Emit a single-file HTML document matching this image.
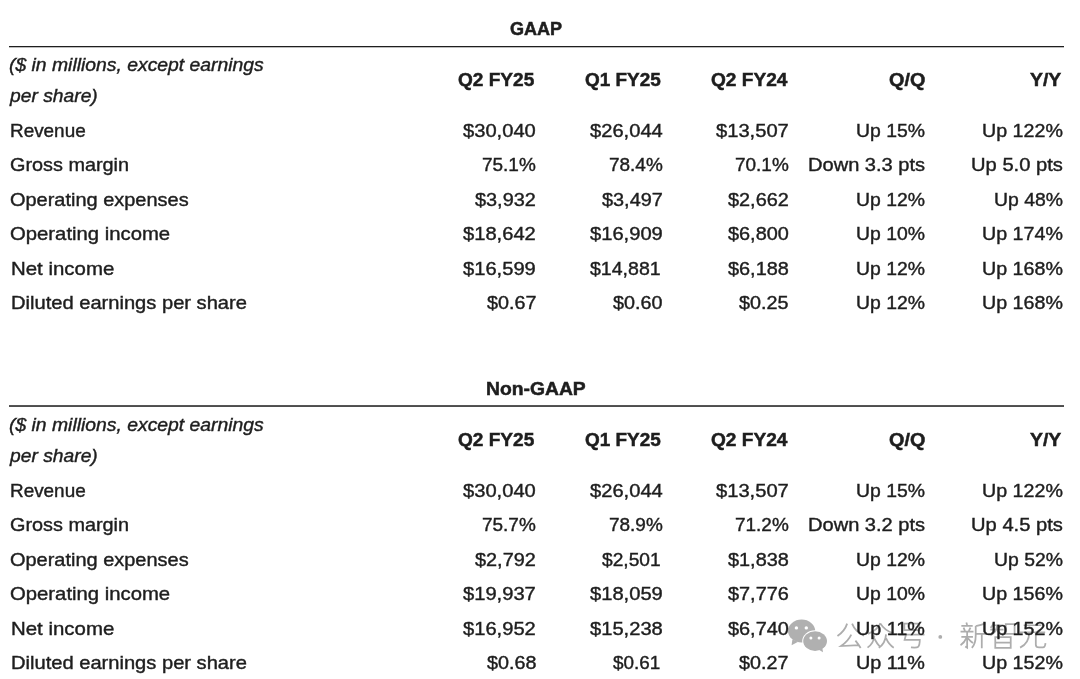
<!DOCTYPE html>
<html><head><meta charset="utf-8"><title>GAAP / Non-GAAP</title>
<style>
html,body{margin:0;padding:0;background:#fff;}
body{width:1080px;height:679px;position:relative;overflow:hidden;
font-family:"Liberation Sans",sans-serif;color:#1e1e1e;}
p{position:absolute;margin:0;white-space:nowrap;font-size:18.2px;line-height:24px;height:24px;transform-origin:0 0;-webkit-text-stroke:0.4px #1e1e1e;}
p.b{font-weight:bold;-webkit-text-stroke:0.5px #1e1e1e;}
p.i{font-style:italic;}
.wm{position:absolute;left:0;top:0;}
.rule{position:absolute;left:9px;width:1055px;height:1px;}
#w{position:absolute;left:0;top:0;width:1080px;height:679px;will-change:transform;}
</style></head><body><div id="w">
<div class="rule" style="top:46px;background:#1f1f1f"></div><div class="rule" style="top:47px;background:#bdbdbd"></div><div class="rule" style="top:405px;background:#555"></div><div class="rule" style="top:406px;background:#4d4d4d"></div>
<svg class="wm" width="1080" height="679" viewBox="0 0 1080 679"><g fill="#b0b0b0"><ellipse cx="801.6" cy="631" rx="13.6" ry="11.4"/><path d="M792.4 639.5L791.6 645.2L798.2 641.8Z"/></g><g fill="#fff"><circle cx="796.4" cy="627.9" r="1.7"/><circle cx="806.3" cy="627.9" r="1.7"/></g><ellipse cx="815.1" cy="641.1" rx="12.9" ry="10.8" fill="#fff"/><g fill="#b0b0b0"><ellipse cx="815.1" cy="641.1" rx="11.9" ry="9.8"/><path d="M818.5 649.5L823 652.3L822.3 647.5Z"/></g><g fill="#fff"><circle cx="810.9" cy="637.9" r="1.5"/><circle cx="819.1" cy="637.9" r="1.5"/></g><circle cx="940.3" cy="636.9" r="1.9" fill="#adadad"/><g fill="none" stroke="#adadad" stroke-width="6.4" stroke-linecap="butt" stroke-linejoin="miter"><path transform="translate(837.2 622.0) scale(0.2760 0.2700)" d="M36 6C31 22 18 40 1 52M54 6C60 22 74 40 97 51M51 47C44 62 30 78 14 89L80 86M66 69C73 78 80 88 85 96"/><path transform="translate(866.7 622.0) scale(0.2760 0.2700)" d="M50 4C44 18 28 34 5 44M50 6C58 20 74 34 96 42M28 50C27 66 18 84 3 95M28 62C34 74 42 86 50 94M70 46C69 64 60 84 44 96M70 60C76 74 86 88 98 95"/><path transform="translate(897.7 622.0) scale(0.2760 0.2700)" d="M24 6H78V30H24ZM3 47H97M30 47L25 66H80C80 78 78 88 74 92C70 96 60 95 48 94"/><path transform="translate(959.7 622.0) scale(0.2760 0.2700)" d="M24 2L27 11M6 14H47M14 21L19 33M39 21L33 33M3 36H50M6 55H48M27 36V95L20 91M25 58C20 70 12 80 3 86M30 60C36 68 42 74 48 78M93 5C82 10 70 13 58 15M58 15V50C58 70 54 85 44 96M58 44H98M80 44V97"/><path transform="translate(989.2 622.0) scale(0.2760 0.2700)" d="M16 3C14 10 10 17 5 22M12 12H46M4 28H52M28 12C28 28 22 40 4 50M30 32C36 40 44 46 52 50M60 8H92V44H60ZM22 56H78V96H22ZM22 76H78"/><path transform="translate(1018.7 622.0) scale(0.2760 0.2700)" d="M18 12H82M4 38H96M38 38C38 60 32 82 5 95M62 38V84C62 92 66 94 74 94H88C94 94 96 90 97 78"/></g></svg>
<p class="b" style="left:510.30px;top:16.60px;transform:scaleX(0.9921)">GAAP</p>
<p class="i" style="left:9.30px;top:52.50px;transform:scaleX(1.0635)">($ in millions, except earnings</p>
<p class="i" style="left:10.36px;top:84.00px;transform:scaleX(1.0587)">per share)</p>
<p class="b" style="left:458.20px;top:68.40px;transform:scaleX(1.0472)">Q2 FY25</p>
<p class="b" style="left:585.00px;top:68.40px;transform:scaleX(1.0403)">Q1 FY25</p>
<p class="b" style="left:710.90px;top:68.40px;transform:scaleX(1.0493)">Q2 FY24</p>
<p class="b" style="left:888.60px;top:68.40px;transform:scaleX(1.0874)">Q/Q</p>
<p class="b" style="left:1030.20px;top:68.40px;transform:scaleX(1.0657)">Y/Y</p>
<p style="left:9.96px;top:118.90px;transform:scaleX(1.0392)">Revenue</p>
<p style="left:463.30px;top:118.90px;transform:scaleX(1.1078)">$30,040</p>
<p style="left:589.70px;top:118.90px;transform:scaleX(1.1078)">$26,044</p>
<p style="left:715.90px;top:118.90px;transform:scaleX(1.1078)">$13,507</p>
<p style="left:856.13px;top:118.90px;transform:scaleX(1.0656)">Up 15%</p>
<p style="left:981.72px;top:118.90px;transform:scaleX(1.0808)">Up 122%</p>
<p style="left:9.80px;top:153.30px;transform:scaleX(1.0904)">Gross margin</p>
<p style="left:482.40px;top:153.30px;transform:scaleX(1.0428)">75.1%</p>
<p style="left:608.80px;top:153.30px;transform:scaleX(1.0428)">78.4%</p>
<p style="left:735.00px;top:153.30px;transform:scaleX(1.0428)">70.1%</p>
<p style="left:807.90px;top:153.30px;transform:scaleX(1.1032)">Down 3.3 pts</p>
<p style="left:970.59px;top:153.30px;transform:scaleX(1.1087)">Up 5.0 pts</p>
<p style="left:9.80px;top:187.80px;transform:scaleX(1.0972)">Operating expenses</p>
<p style="left:475.30px;top:187.80px;transform:scaleX(1.0934)">$3,932</p>
<p style="left:601.70px;top:187.80px;transform:scaleX(1.0934)">$3,497</p>
<p style="left:727.90px;top:187.80px;transform:scaleX(1.0934)">$2,662</p>
<p style="left:856.13px;top:187.80px;transform:scaleX(1.0656)">Up 12%</p>
<p style="left:993.63px;top:187.80px;transform:scaleX(1.0656)">Up 48%</p>
<p style="left:9.80px;top:222.10px;transform:scaleX(1.1154)">Operating income</p>
<p style="left:463.30px;top:222.10px;transform:scaleX(1.1078)">$18,642</p>
<p style="left:589.70px;top:222.10px;transform:scaleX(1.1078)">$16,909</p>
<p style="left:727.90px;top:222.10px;transform:scaleX(1.0934)">$6,800</p>
<p style="left:856.13px;top:222.10px;transform:scaleX(1.0656)">Up 10%</p>
<p style="left:981.72px;top:222.10px;transform:scaleX(1.0808)">Up 174%</p>
<p style="left:10.88px;top:256.60px;transform:scaleX(1.1225)">Net income</p>
<p style="left:463.30px;top:256.60px;transform:scaleX(1.1078)">$16,599</p>
<p style="left:589.70px;top:256.60px;transform:scaleX(1.0742)">$14,881</p>
<p style="left:727.90px;top:256.60px;transform:scaleX(1.0934)">$6,188</p>
<p style="left:856.13px;top:256.60px;transform:scaleX(1.0656)">Up 12%</p>
<p style="left:981.72px;top:256.60px;transform:scaleX(1.0808)">Up 168%</p>
<p style="left:10.89px;top:290.70px;transform:scaleX(1.1060)">Diluted earnings per share</p>
<p style="left:486.70px;top:290.70px;transform:scaleX(1.0859)">$0.67</p>
<p style="left:613.10px;top:290.70px;transform:scaleX(1.0859)">$0.60</p>
<p style="left:739.30px;top:290.70px;transform:scaleX(1.0859)">$0.25</p>
<p style="left:856.13px;top:290.70px;transform:scaleX(1.0656)">Up 12%</p>
<p style="left:981.72px;top:290.70px;transform:scaleX(1.0808)">Up 168%</p>
<p class="b" style="left:486.14px;top:376.60px;transform:scaleX(1.0611)">Non-GAAP</p>
<p class="i" style="left:9.30px;top:412.50px;transform:scaleX(1.0635)">($ in millions, except earnings</p>
<p class="i" style="left:10.36px;top:444.00px;transform:scaleX(1.0587)">per share)</p>
<p class="b" style="left:458.20px;top:428.40px;transform:scaleX(1.0472)">Q2 FY25</p>
<p class="b" style="left:585.00px;top:428.40px;transform:scaleX(1.0403)">Q1 FY25</p>
<p class="b" style="left:710.90px;top:428.40px;transform:scaleX(1.0493)">Q2 FY24</p>
<p class="b" style="left:888.60px;top:428.40px;transform:scaleX(1.0874)">Q/Q</p>
<p class="b" style="left:1030.20px;top:428.40px;transform:scaleX(1.0657)">Y/Y</p>
<p style="left:9.96px;top:478.90px;transform:scaleX(1.0392)">Revenue</p>
<p style="left:463.30px;top:478.90px;transform:scaleX(1.1078)">$30,040</p>
<p style="left:589.70px;top:478.90px;transform:scaleX(1.1078)">$26,044</p>
<p style="left:715.90px;top:478.90px;transform:scaleX(1.1078)">$13,507</p>
<p style="left:856.13px;top:478.90px;transform:scaleX(1.0656)">Up 15%</p>
<p style="left:981.72px;top:478.90px;transform:scaleX(1.0808)">Up 122%</p>
<p style="left:9.80px;top:513.30px;transform:scaleX(1.0904)">Gross margin</p>
<p style="left:482.40px;top:513.30px;transform:scaleX(1.0428)">75.7%</p>
<p style="left:608.80px;top:513.30px;transform:scaleX(1.0428)">78.9%</p>
<p style="left:735.00px;top:513.30px;transform:scaleX(1.0428)">71.2%</p>
<p style="left:807.90px;top:513.30px;transform:scaleX(1.1032)">Down 3.2 pts</p>
<p style="left:970.59px;top:513.30px;transform:scaleX(1.1087)">Up 4.5 pts</p>
<p style="left:9.80px;top:547.80px;transform:scaleX(1.0972)">Operating expenses</p>
<p style="left:475.30px;top:547.80px;transform:scaleX(1.0934)">$2,792</p>
<p style="left:601.70px;top:547.80px;transform:scaleX(1.0538)">$2,501</p>
<p style="left:727.90px;top:547.80px;transform:scaleX(1.0934)">$1,838</p>
<p style="left:856.13px;top:547.80px;transform:scaleX(1.0656)">Up 12%</p>
<p style="left:993.63px;top:547.80px;transform:scaleX(1.0656)">Up 52%</p>
<p style="left:9.80px;top:582.10px;transform:scaleX(1.1154)">Operating income</p>
<p style="left:463.30px;top:582.10px;transform:scaleX(1.1078)">$19,937</p>
<p style="left:589.70px;top:582.10px;transform:scaleX(1.1078)">$18,059</p>
<p style="left:727.90px;top:582.10px;transform:scaleX(1.0934)">$7,776</p>
<p style="left:856.13px;top:582.10px;transform:scaleX(1.0656)">Up 10%</p>
<p style="left:981.72px;top:582.10px;transform:scaleX(1.0808)">Up 156%</p>
<p style="left:10.88px;top:616.60px;transform:scaleX(1.1225)">Net income</p>
<p style="left:463.30px;top:616.60px;transform:scaleX(1.1078)">$16,952</p>
<p style="left:589.70px;top:616.60px;transform:scaleX(1.1078)">$15,238</p>
<p style="left:727.90px;top:616.60px;transform:scaleX(1.0934)">$6,740</p>
<p style="left:856.11px;top:616.60px;transform:scaleX(1.0887)">Up 11%</p>
<p style="left:981.72px;top:616.60px;transform:scaleX(1.0808)">Up 152%</p>
<p style="left:10.89px;top:650.70px;transform:scaleX(1.1060)">Diluted earnings per share</p>
<p style="left:486.70px;top:650.70px;transform:scaleX(1.0859)">$0.68</p>
<p style="left:613.10px;top:650.70px;transform:scaleX(1.0375)">$0.61</p>
<p style="left:739.30px;top:650.70px;transform:scaleX(1.0859)">$0.27</p>
<p style="left:856.11px;top:650.70px;transform:scaleX(1.0887)">Up 11%</p>
<p style="left:981.72px;top:650.70px;transform:scaleX(1.0808)">Up 152%</p>
</div></body></html>
